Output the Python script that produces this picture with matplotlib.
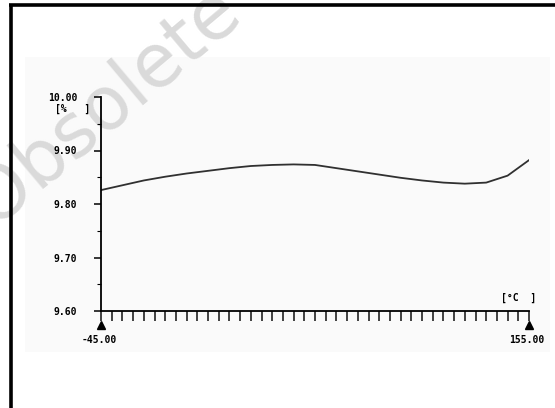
import numpy as np
import matplotlib
matplotlib.use("Agg")
import matplotlib.pyplot as plt
from matplotlib.patches import Rectangle
from matplotlib.lines import Line2D

temp = [-45, -35, -25, -15, -5, 5, 15, 25, 35, 45, 55,
        65, 75, 85, 95, 105, 115, 125, 135, 145, 155]
value = [9.826, 9.835, 9.844, 9.851, 9.857, 9.862, 9.867, 9.871, 9.873, 9.874, 9.873,
         9.867, 9.861, 9.855, 9.849, 9.844, 9.840, 9.838, 9.840, 9.853, 9.882]

y_ticks = [9.60, 9.70, 9.80, 9.90, 10.00]
y_tick_labels = ["9.60", "9.70", "9.80", "9.90", "10.00"]
x_min, x_max = -45, 155

fig = plt.figure(figsize=(5.55, 4.08), dpi=100)

# faint scanned area and the frame lines (left + top)
fig.patches.append(Rectangle((25/555, 1-352/408), 525/555, 295/408, transform=fig.transFigure,
                             facecolor="#fafafa", edgecolor="none", zorder=-1))
fig.lines.append(Line2D([10.5/555, 10.5/555], [0, 1-4.5/408], transform=fig.transFigure,
                        color="black", lw=2.6, solid_capstyle="butt"))
fig.lines.append(Line2D([9/555, 1], [1-4.5/408, 1-4.5/408], transform=fig.transFigure,
                        color="black", lw=2.6, solid_capstyle="butt"))

# watermark (behind the chart)
fig.text(-6/555, 1-230/408, "Obsolete P", fontsize=53, color="#dadada",
         rotation=40, rotation_mode="anchor", ha="left", va="baseline", zorder=1)

ax = fig.add_axes([101/555, 1-311/408, 428/555, 214/408])
ax.set_zorder(2)
ax.set_facecolor("none")
ax.plot(temp, value, color="#303030", lw=1.3)

ax.set_xlim(x_min, x_max)
ax.set_ylim(9.60, 10.00)
for s in ["top", "right"]:
    ax.spines[s].set_visible(False)
ax.spines["left"].set_linewidth(1.3)
ax.spines["bottom"].set_linewidth(1.3)

mono = "DejaVu Sans Mono"
ax.set_xticks(np.arange(x_min, x_max + 1, 5))
ax.tick_params(axis="x", direction="out", length=7, width=1.2, labelbottom=False, color="#222")
ax.set_yticks(y_ticks)
ax.set_yticklabels(y_tick_labels, fontfamily=mono, fontsize=7, fontweight="bold")
ax.set_yticks(np.arange(9.65, 10.0, 0.1), minor=True)
ax.tick_params(axis="y", which="major", direction="out", length=5, width=1.1, pad=12)
ax.tick_params(axis="y", which="minor", direction="out", length=3, width=0.8)

# end markers and labels on the x axis
ax.plot([x_min, x_max], [9.574, 9.574], marker="^", color="black", ms=6, ls="none", clip_on=False)
ax.text(x_min - 1, 9.545, "-45.00", fontfamily=mono, fontsize=7, fontweight="bold",
        ha="center", va="center")
ax.text(x_max - 1, 9.545, "155.00", fontfamily=mono, fontsize=7, fontweight="bold",
        ha="center", va="center")
ax.text(150, 9.625, "[\u00b0C  ]", fontfamily=mono, fontsize=7, fontweight="bold",
        ha="center", va="center")
ax.text(-50, 9.978, "[%   ]", fontfamily=mono, fontsize=7, fontweight="bold",
        ha="right", va="center")

fig.savefig("out.png", dpi=100)
